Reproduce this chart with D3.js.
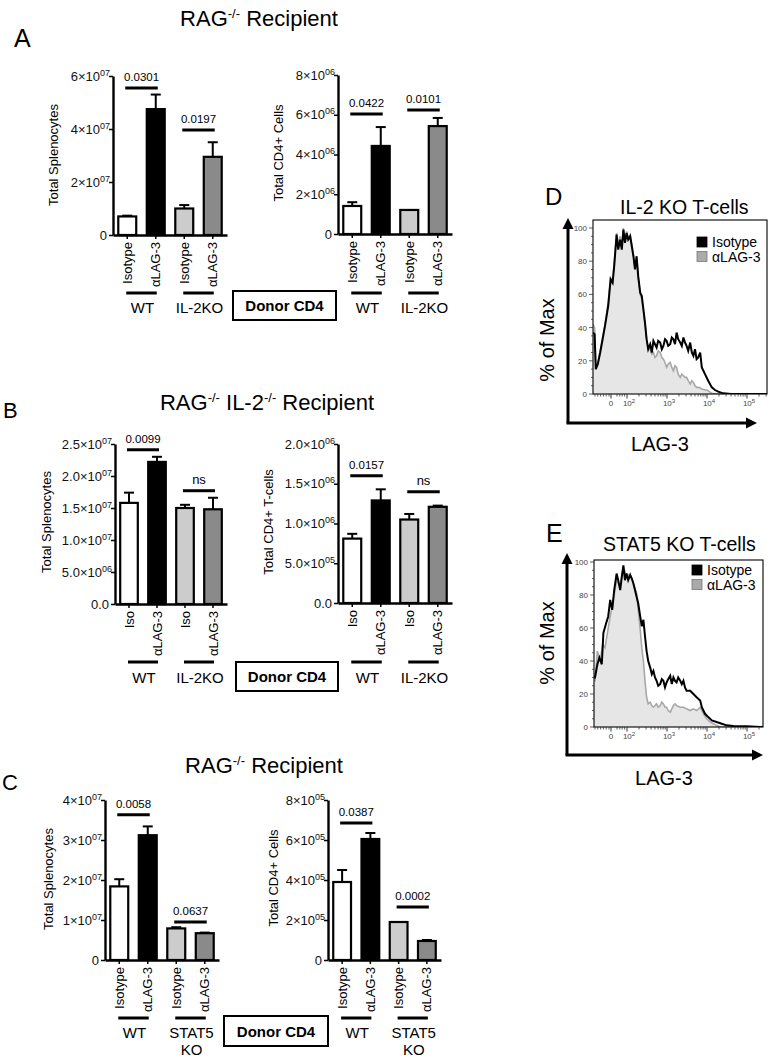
<!DOCTYPE html>
<html><head><meta charset="utf-8">
<script src="https://cdn.jsdelivr.net/npm/d3@7"></script>
<style>body{margin:0;background:#fff} svg{display:block} text{font-family:"Liberation Sans",Arial,Helvetica,sans-serif}</style>
</head><body><svg id="fig" width="770" height="1058"></svg>
<script>
// ---------------- DATA ----------------
const treatLong = ["Isotype","αLAG-3","Isotype","αLAG-3"];
const treatShort = ["Iso","αLAG-3","Iso","αLAG-3"];
const donorIL2 = ["WT","IL-2KO"];
const donorSTAT5 = ["WT","STAT5|KO"];

const aSpleenMean = [7.0e6, 4.75e7, 1.0e7, 2.95e7];
const aSpleenErr  = [0.3e6, 5.5e6, 1.3e6, 5.5e6];
const aCD4Mean = [1.41e6, 4.43e6, 1.21e6, 5.43e6];
const aCD4Err  = [0.19e6, 0.95e6, 0, 0.41e6];
const bSpleenMean = [1.58e7, 2.22e7, 1.50e7, 1.48e7];
const bSpleenErr  = [0.16e7, 0.08e7, 0.05e7, 0.18e7];
const bCD4Mean = [8.1e5, 1.29e6, 1.05e6, 1.21e6];
const bCD4Err  = [0.6e5, 0.14e6, 0.07e6, 0.015e6];
const cSpleenMean = [1.84e7, 3.12e7, 0.79e7, 0.67e7];
const cSpleenErr  = [0.18e7, 0.22e7, 0.03e7, 0.015e7];
const cCD4Mean = [3.9e5, 6.05e5, 1.9e5, 0.95e5];
const cCD4Err  = [0.6e5, 0.3e5, 0, 0.05e5];

const aSpleenTicks = [0, 2e7, 4e7, 6e7];
const aCD4Ticks = [0, 2e6, 4e6, 6e6, 8e6];
const bSpleenTicks = [0, 5e6, 1e7, 1.5e7, 2e7, 2.5e7];
const bCD4Ticks = [0, 5e5, 1e6, 1.5e6, 2e6];
const cSpleenTicks = [0, 1e7, 2e7, 3e7, 4e7];
const cCD4Ticks = [0, 2e5, 4e5, 6e5, 8e5];

// significance: [barA, barB, label, level]
const aSpleenSig = [[0,1,"0.0301",5.55e7],[2,3,"0.0197",3.96e7]];
const aCD4Sig = [[0,1,"0.0422",6.04e6],[2,3,"0.0101",6.24e6]];
const bSpleenSig = [[0,1,"0.0099",2.41e7],[2,3,"ns",1.77e7]];
const bCD4Sig = [[0,1,"0.0157",1.6e6],[2,3,"ns",1.4e6]];
const cSpleenSig = [[0,1,"0.0058",3.63e7],[2,3,"0.0637",0.95e7]];
const cCD4Sig = [[0,1,"0.0387",6.85e5],[2,3,"0.0002",2.65e5]];

// flow histograms: [display position (decade units), % of max]
const histD_iso = [[1.15,37],[1.19,36],[1.22,15],[1.27,18],[1.33,25],[1.39,33],[1.45,41],[1.53,53],[1.59,69],[1.64,67],[1.68,77],[1.74,96],[1.78,87],[1.83,93],[1.87,87],[1.91,99],[1.95,91],[1.99,97],[2.03,93],[2.08,95],[2.12,89],[2.16,83],[2.2,75],[2.24,83],[2.28,71],[2.33,61],[2.37,59],[2.41,51],[2.45,43],[2.49,33],[2.53,27],[2.58,30],[2.62,25],[2.66,32],[2.7,30],[2.74,28],[2.78,32],[2.83,31],[2.87,27],[2.91,29],[2.95,33],[2.99,32],[3.03,29],[3.08,30],[3.12,34],[3.16,33],[3.2,30],[3.24,37],[3.28,33],[3.33,31],[3.37,29],[3.41,34],[3.45,31],[3.49,29],[3.53,26],[3.58,31],[3.62,25],[3.66,23],[3.7,27],[3.74,21],[3.78,22],[3.83,25],[3.87,16],[3.91,14],[3.95,12],[4.03,8],[4.12,4],[4.2,2.4],[4.28,1.4],[4.41,0.4],[4.6,0],[5.5,0]];
const histD_lag = [[1.15,42],[1.19,40],[1.22,16],[1.27,19],[1.33,26],[1.39,34],[1.45,42],[1.53,55],[1.59,70],[1.64,68],[1.68,79],[1.74,97],[1.78,90],[1.83,95],[1.87,88],[1.91,100],[1.95,92],[1.99,98],[2.03,94],[2.08,96],[2.12,90],[2.16,84],[2.2,76],[2.24,82],[2.28,70],[2.33,60],[2.37,57],[2.41,50],[2.45,42],[2.49,33],[2.53,27],[2.58,27],[2.62,24],[2.66,25],[2.7,22],[2.74,23],[2.78,26],[2.83,25],[2.87,22],[2.91,21],[2.95,19],[2.99,16],[3.03,18],[3.08,19],[3.12,16],[3.16,14],[3.2,17],[3.24,16],[3.28,12],[3.33,10],[3.37,12],[3.41,11],[3.45,10],[3.49,10],[3.53,8],[3.58,6],[3.62,8],[3.66,7],[3.7,5],[3.74,4],[3.8,4],[3.87,3],[3.95,2.5],[4.0,2.4],[4.12,0.4],[4.3,0],[5.5,0]];
const histE_iso = [[1.175,30],[1.2,30],[1.26,38],[1.31,42],[1.37,38],[1.41,57],[1.48,63],[1.53,67],[1.58,77],[1.63,71],[1.68,83],[1.74,93],[1.78,89],[1.83,83],[1.87,91],[1.91,98],[1.95,89],[1.99,93],[2.03,89],[2.08,92],[2.12,90],[2.16,87],[2.2,83],[2.24,79],[2.28,75],[2.33,67],[2.37,61],[2.41,65],[2.45,55],[2.49,46],[2.53,40],[2.58,36],[2.62,32],[2.66,34],[2.7,30],[2.74,28],[2.78,25],[2.83,26],[2.87,29],[2.91,28],[2.95,24],[2.99,27],[3.03,29],[3.08,31],[3.12,26],[3.16,30],[3.2,28],[3.24,27],[3.28,30],[3.33,28],[3.37,26],[3.41,28],[3.45,24],[3.49,22],[3.58,22],[3.66,20],[3.74,18],[3.83,16],[3.87,12],[3.95,8],[4.03,6],[4.12,4],[4.24,3],[4.37,2],[4.49,1],[4.66,0.6],[4.99,0.4],[5.33,0],[5.4,0]];
const histE_lag = [[1.175,28],[1.2,28],[1.26,46],[1.33,40],[1.39,50],[1.45,48],[1.51,57],[1.58,67],[1.66,77],[1.74,89],[1.83,85],[1.91,97],[1.99,91],[2.08,93],[2.16,87],[2.24,81],[2.28,71],[2.33,59],[2.37,48],[2.41,40],[2.45,28],[2.49,18],[2.53,14],[2.58,15],[2.62,13],[2.66,12],[2.7,13],[2.74,14],[2.78,12],[2.83,13],[2.87,15],[2.91,14],[2.95,12],[2.99,12],[3.03,10],[3.08,9],[3.12,11],[3.16,13],[3.2,14],[3.24,13],[3.33,12],[3.41,12],[3.49,11],[3.58,10],[3.66,11],[3.74,10],[3.83,12],[3.91,8],[3.99,5],[4.08,3],[4.16,2],[4.24,1],[4.33,0],[5.4,0]];

const flowYTicks = [0,20,40,60,80,100];
const flowXTicks = [["0",null,1.6],["10","2",2],["10","3",3],["10","4",4],["10","5",5]];
const legendLabels = ["Isotype","αLAG-3"];

// ---------------- DRAWING ----------------
const svg = d3.select("#fig");
const defs = svg.append("defs");
const FILLS = ["#ffffff","#000000","#cccccc","#8a8a8a"];

function fmtTick(v, dec) {
  if (v === 0) return [dec ? (0).toFixed(dec) : "0", null];
  const e = Math.floor(Math.log10(v) + 1e-9);
  const m = v / Math.pow(10, e);
  return [m.toFixed(dec) + "×10", String(e).padStart(2,"0")];
}

function barChart(c) {
  const g = svg.append("g");
  const y = d3.scaleLinear().domain([0, c.max]).range([c.y0, c.yTop]);
  const x = d3.scaleBand().domain(d3.range(c.mean.length)).range([c.x0, c.x1])
    .paddingInner(0.3).paddingOuter(0.15);
  const bw = x.bandwidth();
  const cx = i => x(i) + bw / 2;

  // error bars (upper)
  c.mean.forEach((m, i) => {
    if (!c.err[i]) return;
    g.append("line").attr("x1", cx(i)).attr("x2", cx(i)).attr("y1", y(m)).attr("y2", y(m + c.err[i]))
      .attr("stroke", "#000").attr("stroke-width", 2);
    g.append("line").attr("x1", cx(i) - 5).attr("x2", cx(i) + 5).attr("y1", y(m + c.err[i])).attr("y2", y(m + c.err[i]))
      .attr("stroke", "#000").attr("stroke-width", 2);
  });
  // bars
  g.selectAll("rect.bar").data(c.mean).join("rect").attr("class", "bar")
    .attr("x", (d, i) => x(i) + 1).attr("width", bw - 2)
    .attr("y", d => y(d)).attr("height", d => c.y0 - y(d))
    .attr("fill", (d, i) => FILLS[i]).attr("stroke", "#000").attr("stroke-width", 2.2);

  // y axis
  const ya = g.append("g").attr("transform", `translate(${c.x0},0)`)
    .call(d3.axisLeft(y).tickValues(c.ticks).tickSize(4).tickSizeOuter(0).tickFormat(""));
  ya.select(".domain").attr("stroke-width", 2.4);
  ya.selectAll(".tick line").attr("stroke-width", 1.5);
  c.ticks.forEach(v => {
    const [base, sup] = fmtTick(v, c.dec);
    const t = g.append("text").attr("x", c.x0 - (sup ? 3 : 6)).attr("y", y(v) + 4.5)
      .attr("text-anchor", "end").attr("font-size", 13).attr("fill", "#111");
    t.append("tspan").text(base);
    if (sup) t.append("tspan").attr("dy", -5).attr("font-size", 9).text(sup);
  });
  // x axis
  const xa = g.append("g").attr("transform", `translate(0,${c.y0})`)
    .call(d3.axisBottom(x).tickSize(4).tickSizeOuter(0).tickFormat(""));
  xa.select(".domain").attr("stroke-width", 2.4);
  xa.selectAll(".tick line").attr("stroke-width", 1.5);

  // category labels
  c.cats.forEach((t, i) => {
    g.append("text").attr("transform", `translate(${cx(i)},${c.y0 + 7}) rotate(-90)`)
      .attr("text-anchor", "end").attr("dy", "0.35em").attr("font-size", 13).text(t);
  });
  // y title
  g.append("text").attr("transform", `translate(${c.tx},${c.ty}) rotate(-90)`)
    .attr("text-anchor", "middle").attr("dy", "0.35em").attr("font-size", 13).text(c.title);

  // significance
  c.sig.forEach(([a, b, lab, lev]) => {
    const ly = y(lev);
    g.append("line").attr("x1", cx(a) - 2).attr("x2", cx(b) + 2).attr("y1", ly).attr("y2", ly)
      .attr("stroke", "#000").attr("stroke-width", 3);
    g.append("text").attr("x", (cx(a) + cx(b)) / 2).attr("y", ly - 7).attr("text-anchor", "middle")
      .attr("font-size", lab === "ns" ? 13 : 11.5).text(lab);
  });

  // group underlines + labels
  c.groups.forEach((lab, k) => {
    const a = 2 * k, b = 2 * k + 1;
    g.append("line").attr("x1", cx(a) - 1).attr("x2", cx(b) + 1).attr("y1", c.uy).attr("y2", c.uy)
      .attr("stroke", "#000").attr("stroke-width", 3);
    const parts = lab.split("|");
    parts.forEach((p, j) => {
      g.append("text").attr("x", (cx(a) + cx(b)) / 2 + 1).attr("y", c.ly + j * 17)
        .attr("text-anchor", "middle").attr("font-size", 15).text(p);
    });
  });
}

function donorBox(b) {
  svg.append("rect").attr("x", b.x).attr("y", b.y).attr("width", b.w).attr("height", b.h)
    .attr("fill", "none").attr("stroke", "#000").attr("stroke-width", 2);
  svg.append("text").attr("x", b.x + b.w / 2).attr("y", b.y + b.h / 2 + 5.5).attr("text-anchor", "middle")
    .attr("font-size", 15).attr("font-weight", "bold").text("Donor CD4");
}

function title(parts, x, y) {
  const t = svg.append("text").attr("x", x).attr("y", y).attr("text-anchor", "middle")
    .attr("font-size", 22).style("white-space", "pre");
  parts.forEach(([s, sup]) => {
    if (sup) t.append("tspan").attr("dy", -8).attr("font-size", 13).text(s);
    else t.append("tspan").attr("dy", t.selectAll("tspan").size() ? 8 : 0).text(s);
  });
}

function letter(s, x, y, size) {
  svg.append("text").attr("x", x).attr("y", y).attr("font-size", size).text(s);
}

function arrow(x1, y1, x2, y2) {
  const ang = Math.atan2(y2 - y1, x2 - x1);
  const L = 11, W = 5.5;
  const bx = x2 - L * Math.cos(ang), by = y2 - L * Math.sin(ang);
  svg.append("line").attr("x1", x1).attr("y1", y1).attr("x2", bx).attr("y2", by)
    .attr("stroke", "#000").attr("stroke-width", 3);
  const px = -Math.sin(ang) * W, py = Math.cos(ang) * W;
  svg.append("polygon").attr("points", `${x2},${y2} ${bx + px},${by + py} ${bx - px},${by - py}`).attr("fill", "#000");
}

function flowPanel(c) {
  const g = svg.append("g");
  const b = c.box;
  const x = d3.scaleLinear().domain(c.xDomain).range([b.left, b.right]);
  const y = d3.scaleLinear().domain([0, 100]).range([b.bottom, c.y100]);
  const id = "clip" + c.letter;
  defs.append("clipPath").attr("id", id).append("rect")
    .attr("x", b.left).attr("y", b.top).attr("width", b.right - b.left).attr("height", b.bottom - b.top);
  const area = d3.area().x(d => x(d[0])).y0(y(0)).y1(d => y(d[1]));
  const line = d3.line().x(d => x(d[0])).y(d => y(d[1]));
  const pg = g.append("g").attr("clip-path", `url(#${id})`);
  pg.append("path").datum(c.lag).attr("d", area).attr("fill", "#e6e6e6");
  pg.append("path").datum(c.lag).attr("d", line).attr("fill", "none").attr("stroke", "#a8a8a8").attr("stroke-width", 1.6);
  pg.append("path").datum(c.iso).attr("d", line).attr("fill", "none").attr("stroke", "#000").attr("stroke-width", 2);
  g.append("rect").attr("x", b.left).attr("y", b.top).attr("width", b.right - b.left).attr("height", b.bottom - b.top)
    .attr("fill", "none").attr("stroke", "#000").attr("stroke-width", 1.1);

  // y ticks
  d3.range(0, 101, 5).forEach(v => {
    const major = v % 20 === 0;
    g.append("line").attr("x1", b.left - (major ? 4 : 2)).attr("x2", b.left).attr("y1", y(v)).attr("y2", y(v))
      .attr("stroke", "#333").attr("stroke-width", 0.8);
  });
  flowYTicks.forEach(v => {
    g.append("text").attr("x", b.left - 6).attr("y", y(v) + 3).attr("text-anchor", "end")
      .attr("font-size", 8).attr("fill", "#444").text(v);
  });
  // x ticks
  const minor = [1.2, 1.27, 1.34, 1.41, 1.48, 1.55, 1.75, 1.82, 1.88, 1.94];
  [2, 3, 4, 5].forEach(d => { for (let m = 2; m <= 9; m++) minor.push(d + Math.log10(m)); });
  minor.filter(u => u < c.xDomain[1]).forEach(u => {
    g.append("line").attr("x1", x(u)).attr("x2", x(u)).attr("y1", b.bottom).attr("y2", b.bottom + 2.5)
      .attr("stroke", "#333").attr("stroke-width", 0.8);
  });
  flowXTicks.forEach(([base, sup, u]) => {
    g.append("line").attr("x1", x(u)).attr("x2", x(u)).attr("y1", b.bottom).attr("y2", b.bottom + 4.5)
      .attr("stroke", "#333").attr("stroke-width", 1);
    const t = g.append("text").attr("x", x(u) + (sup ? 2 : 0)).attr("y", b.bottom + 12).attr("text-anchor", "middle")
      .attr("font-size", 8).attr("fill", "#444");
    t.append("tspan").text(base);
    if (sup) t.append("tspan").attr("dy", -3).attr("font-size", 6).text(sup);
  });

  // legend
  legendLabels.forEach((lab, i) => {
    g.append("rect").attr("x", c.lx).attr("y", c.ly + i * 14.5).attr("width", 10).attr("height", 10)
      .attr("fill", i ? "#aaaaaa" : "#000").attr("stroke", i ? "#777" : "#000").attr("stroke-width", 0.8);
    g.append("text").attr("x", c.lx + 15).attr("y", c.ly + i * 14.5 + 10).attr("font-size", 14).text(lab);
  });

  // title, letter
  svg.append("text").attr("x", c.tx).attr("y", c.ty).attr("font-size", 19.5).text(c.title);
  letter(c.letter, c.letX, c.letY, c.letSize);

  // arrows
  arrow(c.ax, c.ay, c.ax, c.vTip);
  arrow(c.ax - 1.5, c.ay, c.hTip, c.ay);
  svg.append("text").attr("transform", `translate(${c.pmX},${c.pmY}) rotate(-90)`).attr("text-anchor", "middle")
    .attr("dy", "0.35em").attr("font-size", 20).text("% of Max");
  svg.append("text").attr("x", c.lagX).attr("y", c.lagY).attr("text-anchor", "middle")
    .attr("font-size", 20).text("LAG-3");
}

// ---- Panel A ----
title([["RAG"], ["-/-", true], [" Recipient"]], 259, 18);
letter("A", 14, 47, 25);
barChart({x0:113, x1:227, y0:235, yTop:76, max:6e7, ticks:aSpleenTicks, dec:0, mean:aSpleenMean, err:aSpleenErr,
  cats:treatLong, title:"Total Splenocytes", tx:53, ty:155, sig:aSpleenSig, groups:donorIL2, uy:293, ly:313});
barChart({x0:338, x1:452, y0:234, yTop:75, max:8e6, ticks:aCD4Ticks, dec:0, mean:aCD4Mean, err:aCD4Err,
  cats:treatLong, title:"Total CD4+ Cells", tx:278, ty:153, sig:aCD4Sig, groups:donorIL2, uy:293, ly:313});
donorBox({x:233, y:291, w:103, h:29});

// ---- Panel B ----
title([["RAG"], ["-/-", true], [" IL-2"], ["-/-", true], [" Recipient"]], 267, 402);
letter("B", 3, 418, 22);
barChart({x0:115, x1:227, y0:604, yTop:444, max:2.5e7, ticks:bSpleenTicks, dec:1, mean:bSpleenMean, err:bSpleenErr,
  cats:treatShort, title:"Total Splenocytes", tx:46, ty:522, sig:bSpleenSig, groups:donorIL2, uy:662, ly:683});
barChart({x0:338, x1:452, y0:603, yTop:444, max:2e6, ticks:bCD4Ticks, dec:1, mean:bCD4Mean, err:bCD4Err,
  cats:treatShort, title:"Total CD4+ T-cells", tx:268, ty:522, sig:bCD4Sig, groups:donorIL2, uy:662, ly:683});
donorBox({x:236, y:662, w:102, h:29});

// ---- Panel C ----
title([["RAG"], ["-/-", true], [" Recipient"]], 264, 765);
letter("C", 2, 790, 22);
barChart({x0:105, x1:219, y0:960, yTop:800, max:4e7, ticks:cSpleenTicks, dec:0, mean:cSpleenMean, err:cSpleenErr,
  cats:treatLong, title:"Total Splenocytes", tx:48, ty:879, sig:cSpleenSig, groups:donorSTAT5, uy:1018, ly:1038});
barChart({x0:328, x1:441, y0:960, yTop:800, max:8e5, ticks:cCD4Ticks, dec:0, mean:cCD4Mean, err:cCD4Err,
  cats:treatLong, title:"Total CD4+ Cells", tx:273, ty:878, sig:cCD4Sig, groups:donorSTAT5, uy:1018, ly:1038});
donorBox({x:224, y:1016, w:104, h:30});

// ---- Panel D ----
flowPanel({letter:"D", letX:545, letY:205, letSize:24, title:"IL-2 KO T-cells", tx:620, ty:214,
  box:{left:593, right:767, top:220, bottom:394}, y100:228, xDomain:[1.15, 5.5],
  iso:histD_iso, lag:histD_lag, lx:697, ly:237,
  ax:568, ay:423, vTip:218, hTip:757, pmX:547, pmY:340, lagX:660, lagY:451});
// ---- Panel E ----
flowPanel({letter:"E", letX:546, letY:542, letSize:25, title:"STAT5 KO T-cells", tx:603, ty:551,
  box:{left:594, right:763, top:560, bottom:727}, y100:562, xDomain:[1.175, 5.4],
  iso:histE_iso, lag:histE_lag, lx:692, ly:565,
  ax:567, ay:755, vTip:553, hTip:763, pmX:547, pmY:643, lagX:664, lagY:785});
</script></body></html>
